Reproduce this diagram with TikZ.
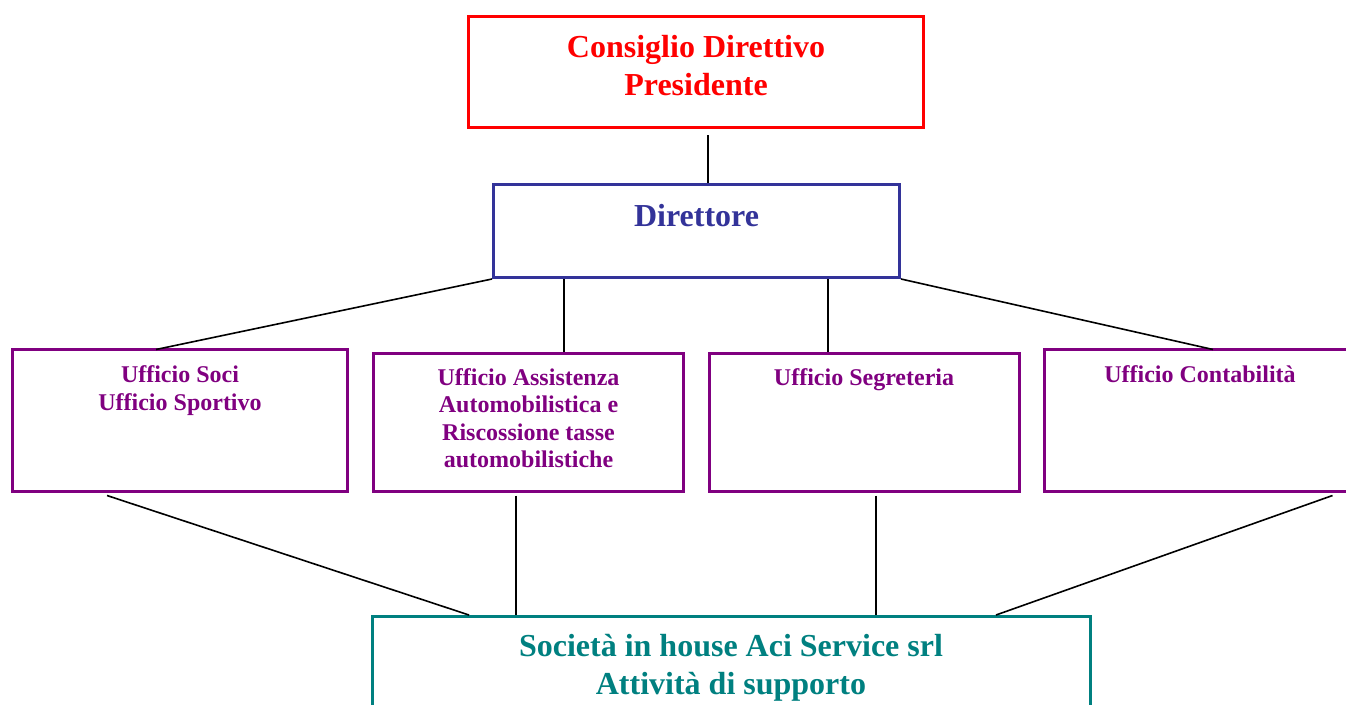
\documentclass[tikz,border=0pt]{standalone}
\usepackage{fontspec}
\setmainfont{Liberation Serif}
\definecolor{cdred}{HTML}{FF0000}
\definecolor{dirblue}{HTML}{333399}
\definecolor{uffpurple}{HTML}{800080}
\definecolor{socteal}{HTML}{008080}
\begin{document}
\begin{tikzpicture}[x=1pt,y=-1pt,
  boxbase/.style={draw, rectangle, line width=3pt, inner sep=0pt},
  bigtext/.style={anchor=base, align=center, inner sep=0pt, font=\fontsize{32}{37.5}\selectfont\bfseries},
  smalltext/.style={anchor=base, align=center, inner sep=0pt, font=\fontsize{24}{27.5}\selectfont\bfseries},
  link/.style={draw=black, line width=1.6pt}]
\useasboundingbox (0,0) rectangle (1346,704);
\clip (0,0) rectangle (1346,704);
% boxes
\node[boxbase, draw=cdred, minimum width=455pt, minimum height=111pt] (cd) at (696,72) {};
\node[boxbase, draw=dirblue, minimum width=406pt, minimum height=93pt] (dir) at (696.5,231) {};
\node[boxbase, draw=uffpurple, minimum width=335pt, minimum height=142pt] (soci) at (180,420) {};
\node[boxbase, draw=uffpurple, minimum width=310pt, minimum height=138pt] (assist) at (528.5,422) {};
\node[boxbase, draw=uffpurple, minimum width=310pt, minimum height=138pt] (segr) at (864,422) {};
\node[boxbase, draw=uffpurple, minimum width=311pt, minimum height=142pt] (cont) at (1200,420) {};
\node[boxbase, draw=socteal, minimum width=718pt, minimum height=115pt] (soc) at (731,674) {};
% texts (base anchor = baseline of the last line)
\node[bigtext, text=cdred] (cdtext) at ([yshift=-80pt]cd.north) {Consiglio Direttivo\\Presidente};
\node[bigtext, text=dirblue] (dirtext) at ([yshift=-43pt]dir.north) {Direttore};
\node[smalltext, text=uffpurple] (socitext) at ([yshift=-62.5pt]soci.north) {Ufficio Soci\\Ufficio Sportivo};
\node[smalltext, text=uffpurple] (assisttext) at ([yshift=-116pt]assist.north) {Ufficio Assistenza\\Automobilistica e\\Riscossione tasse\\automobilistiche};
\node[smalltext, text=uffpurple] (segrtext) at ([yshift=-34pt]segr.north) {Ufficio Segreteria};
\node[smalltext, text=uffpurple] (conttext) at ([yshift=-35pt]cont.north) {Ufficio Contabilità};
\node[bigtext, text=socteal] (soctext) at ([yshift=-79pt]soc.north) {Società in house Aci Service srl\\Attività di supporto};
% anchor points of connectors
\coordinate (cdb) at ([xshift=12pt,yshift=-6pt]cd.south);
\coordinate (sociT) at ([xshift=-24pt,yshift=-2pt]soci.north);
\coordinate (assistT) at ([xshift=35.5pt]assist.north);
\coordinate (segrT) at ([xshift=-36pt]segr.north);
\coordinate (contT) at ([xshift=13pt,yshift=-2pt]cont.north);
\coordinate (sociB) at ([xshift=-73pt,yshift=-3pt]soci.south);
\coordinate (assistB) at ([xshift=-12.5pt,yshift=-3pt]assist.south);
\coordinate (segrB) at ([xshift=12pt,yshift=-3pt]segr.south);
\coordinate (contB) at ([xshift=132.5pt,yshift=-3pt]cont.south);
\coordinate (socL) at ([xshift=-262pt]soc.north);
\coordinate (socR) at ([xshift=265pt]soc.north);
% connectors
\draw[link] (cdb) -- (cdb |- dir.north);
\draw[link] (dir.south west) -- (sociT);
\draw[link] (assistT |- dir.south) -- (assistT);
\draw[link] (segrT |- dir.south) -- (segrT);
\draw[link] (dir.south east) -- (contT);
\draw[link] (sociB) -- (socL);
\draw[link] (assistB) -- (assistB |- soc.north);
\draw[link] (segrB) -- (segrB |- soc.north);
\draw[link] (contB) -- (socR);
\end{tikzpicture}
\end{document}
